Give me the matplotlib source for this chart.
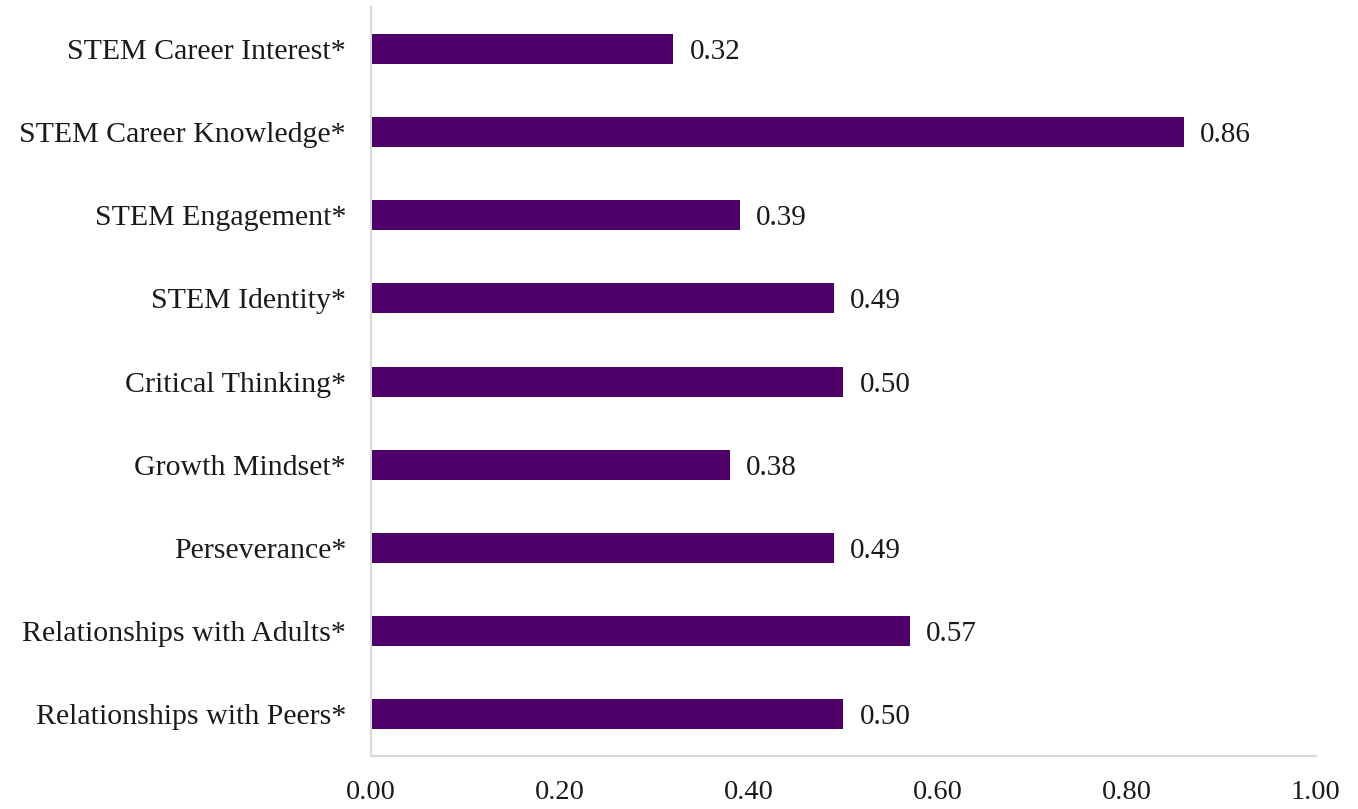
import matplotlib
matplotlib.use("Agg")
import matplotlib.pyplot as plt

categories = [
    "STEM Career Interest*",
    "STEM Career Knowledge*",
    "STEM Engagement*",
    "STEM Identity*",
    "Critical Thinking*",
    "Growth Mindset*",
    "Perseverance*",
    "Relationships with Adults*",
    "Relationships with Peers*",
]
values = [0.32, 0.86, 0.39, 0.49, 0.50, 0.38, 0.49, 0.57, 0.50]
xticks = [0.0, 0.2, 0.4, 0.6, 0.8, 1.0]

plt.rcParams["font.family"] = ["Liberation Serif", "DejaVu Serif"]

fig = plt.figure(figsize=(13.58, 8.09), dpi=100)
ax = fig.add_axes([0.2732, 0.0655, 0.6958, 0.9258])

ypos = list(range(len(categories)))[::-1]
ax.barh(ypos, values, height=0.36, color="#4F0068")

for y, v in zip(ypos, values):
    ax.text(v + 0.017, y, f"{v:.2f}", va="center_baseline", ha="left",
            fontsize=21, color="#1a1a1a")

ax.set_xlim(0, 1.0)
ax.set_ylim(-0.5, len(categories) - 0.5)
ax.set_yticks(ypos)
ax.set_yticklabels(categories, fontsize=21.5, color="#1a1a1a")
ax.set_xticks(xticks)
ax.set_xticklabels([f"{t:.2f}" for t in xticks], fontsize=20.5, color="#1a1a1a")
ax.tick_params(axis="both", length=0)
ax.tick_params(axis="x", pad=17)
ax.tick_params(axis="y", pad=18)

for s in ["top", "right"]:
    ax.spines[s].set_visible(False)
for s in ["left", "bottom"]:
    ax.spines[s].set_color("#D9D9D9")
    ax.spines[s].set_linewidth(1.5)

fig.savefig("out.png", dpi=100)
